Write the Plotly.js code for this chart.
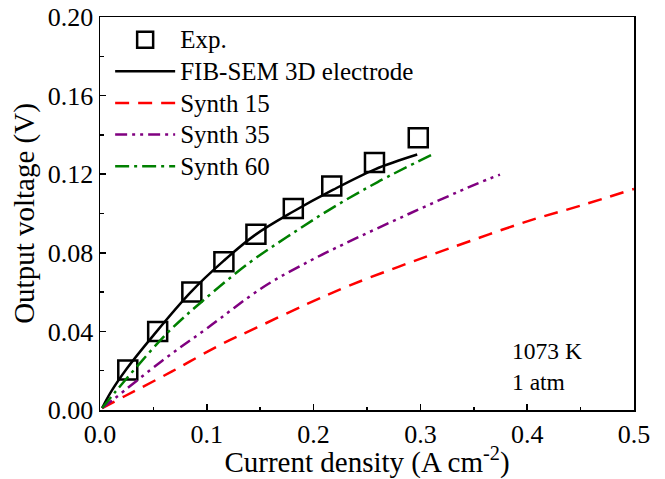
<!DOCTYPE html>
<html>
<head>
<meta charset="utf-8">
<script src="https://cdn.plot.ly/plotly-3.0.1.min.js"></script>
<style>html,body{margin:0;padding:0;background:#fff;}#chart{width:665px;height:479px;}</style>
</head>
<body>
<div id="chart"></div>
<script>
// Experimental data
const expX = [0.026, 0.054, 0.086, 0.116, 0.146, 0.181, 0.217, 0.257, 0.298];
const expY = [0.0203, 0.0400, 0.0600, 0.0755, 0.0895, 0.1025, 0.1140, 0.1260, 0.1386];
// FIB-SEM 3D electrode model
const fibX = [0.002, 0.010, 0.025, 0.050, 0.085, 0.116, 0.145, 0.181, 0.218, 0.2575, 0.297];
const fibY = [0.001, 0.009, 0.021, 0.038, 0.060, 0.076, 0.089, 0.101, 0.112, 0.1225, 0.130];
// Synth 15
const s15X = [0.002, 0.023, 0.067, 0.112, 0.147, 0.194, 0.232, 0.280, 0.328, 0.400, 0.450, 0.500];
const s15Y = [0.001, 0.007, 0.0195, 0.033, 0.042, 0.054, 0.063, 0.073, 0.0824, 0.096, 0.104, 0.1125];
// Synth 35
const s35X = [0.002, 0.014, 0.058, 0.100, 0.153, 0.197, 0.229, 0.290, 0.351, 0.3745];
const s35Y = [0.001, 0.006, 0.025, 0.0415, 0.0626, 0.076, 0.0846, 0.100, 0.1147, 0.1198];
// Synth 60
const s60X = [0.002, 0.014, 0.036, 0.064, 0.095, 0.140, 0.175, 0.215, 0.260, 0.311];
const s60Y = [0.001, 0.009, 0.023, 0.0397, 0.055, 0.075, 0.088, 0.102, 0.116, 0.130];
// Legend labels
const names = ['Exp.', 'FIB-SEM 3D electrode', 'Synth 15', 'Synth 35', 'Synth 60'];

const font = "'Liberation Serif', 'Times New Roman', serif";
const big = s => '<span style="font-size:25px">' + s + '</span>';

const traces = [
  {x: expX, y: expY, name: big(names[0]), mode: 'markers', type: 'scatter',
   marker: {symbol: 'square-open', size: 19, color: '#000', line: {width: 2.5, color: '#000'}}},
  {x: fibX, y: fibY, name: big(names[1]), mode: 'lines', type: 'scatter',
   line: {color: '#000', width: 2.5, shape: 'spline'}},
  {x: s15X, y: s15Y, name: big(names[2]), mode: 'lines', type: 'scatter',
   line: {color: '#ff0000', width: 2.5, dash: '14px,9px', shape: 'spline'}},
  {x: s35X, y: s35Y, name: big(names[3]), mode: 'lines', type: 'scatter',
   line: {color: '#800080', width: 2.5, dash: '12px,5px,3px,5px,3px,5px', shape: 'spline'}},
  {x: s60X, y: s60Y, name: big(names[4]), mode: 'lines', type: 'scatter',
   line: {color: '#008000', width: 2.5, dash: '14px,5px,3px,5px', shape: 'spline'}}
];

const layout = {
  width: 665, height: 479,
  margin: {l: 100, r: 31, t: 17, b: 69},
  paper_bgcolor: '#fff', plot_bgcolor: '#fff',
  font: {family: font, size: 26, color: '#000'},
  showlegend: true,
  legend: {x: 0.019, y: 0.995, xanchor: 'left', yanchor: 'top', bgcolor: 'rgba(0,0,0,0)',
           font: {family: font, size: 22, color: '#000'}, tracegroupgap: 0, itemwidth: 60},
  xaxis: {
    range: [0, 0.5], dtick: 0.1, tick0: 0, tickformat: '.1f',
    showline: true, linecolor: '#000', linewidth: 1.5, mirror: true,
    ticks: 'inside', ticklen: 6, tickwidth: 1.5, tickcolor: '#000',
    minor: {ticks: 'inside', ticklen: 3.5, tickwidth: 1.5, dtick: 0.05, tickcolor: '#000'},
    showgrid: false, zeroline: false,
    tickfont: {family: font, size: 26, color: '#000'},
    title: {text: 'Current density (A cm<sup>-2</sup>)', font: {family: font, size: 29, color: '#000'}, standoff: 2}
  },
  yaxis: {
    range: [0, 0.2], dtick: 0.04, tick0: 0, tickformat: '.2f',
    showline: true, linecolor: '#000', linewidth: 1.5, mirror: true,
    ticks: 'inside', ticklen: 6, tickwidth: 1.5, tickcolor: '#000',
    minor: {ticks: 'inside', ticklen: 3.5, tickwidth: 1.5, dtick: 0.02, tickcolor: '#000'},
    showgrid: false, zeroline: false,
    tickfont: {family: font, size: 26, color: '#000'},
    title: {text: 'Output voltage (V)', font: {family: font, size: 29, color: '#000'}, standoff: 4}
  },
  annotations: [
    {x: 0.384, y: 0.030, xref: 'x', yref: 'y', text: '1073 K', showarrow: false,
     xanchor: 'left', yanchor: 'middle', font: {family: font, size: 23.5, color: '#000'}},
    {x: 0.384, y: 0.0145, xref: 'x', yref: 'y', text: '1 atm', showarrow: false,
     xanchor: 'left', yanchor: 'middle', font: {family: font, size: 23.5, color: '#000'}}
  ]
};

Plotly.newPlot('chart', traces, layout, {displayModeBar: false, staticPlot: true});
</script>
</body>
</html>
